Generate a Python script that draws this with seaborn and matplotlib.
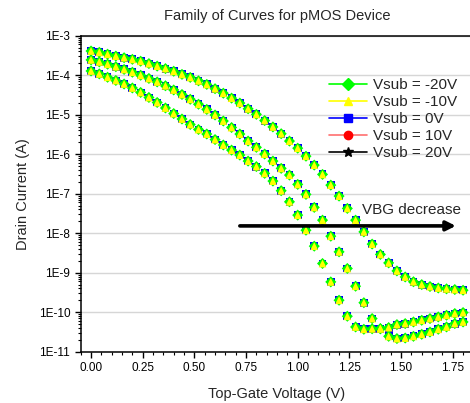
import numpy as np
import pandas as pd
import matplotlib
matplotlib.use("Agg")
import matplotlib.pyplot as plt
import seaborn as sns
from matplotlib.lines import Line2D
from matplotlib.ticker import LogLocator, FixedLocator, FuncFormatter, NullFormatter

# ---------------- data ----------------
gate_voltage = [round(0.04 * i, 2) for i in range(46)]   # 0.00 ... 1.80 V

# three back-gate curves (all Vsub series overlap on them)
curve_high = [4.1e-4, 3.8e-4, 3.4e-4, 3.05e-4, 2.77e-4, 2.52e-4, 2.26e-4, 1.97e-4, 1.7e-4, 1.47e-4,
              1.26e-4, 1.05e-4, 8.8e-5, 7.2e-5, 5.85e-5, 4.55e-5, 3.5e-5, 2.63e-5, 1.97e-5, 1.41e-5,
              1.02e-5, 7.1e-6, 4.9e-6, 3.3e-6, 2.15e-6, 1.42e-6, 8.9e-7, 5.3e-7, 3.08e-7, 1.65e-7,
              8.7e-8, 4.24e-8, 2.14e-8, 1.08e-8, 5.3e-9, 2.9e-9, 1.77e-9, 1.11e-9, 7.8e-10, 5.9e-10,
              5.0e-10, 4.47e-10, 4.1e-10, 3.9e-10, 3.75e-10, 3.6e-10]
curve_mid = [2.44e-4, 2.17e-4, 1.9e-4, 1.64e-4, 1.4e-4, 1.19e-4, 9.97e-5, 8.28e-5, 6.75e-5, 5.4e-5,
             4.23e-5, 3.25e-5, 2.46e-5, 1.84e-5, 1.36e-5, 9.83e-6, 6.92e-6, 4.74e-6, 3.24e-6, 2.15e-6,
             1.49e-6, 1.01e-6, 6.7e-7, 4.38e-7, 2.96e-7, 1.72e-7, 9.6e-8, 4.5e-8, 2.14e-8, 8.4e-9,
             3.37e-9, 1.28e-9, 4.55e-10, 1.74e-10, 6.9e-11, 3.85e-11, 2.45e-11, 2.15e-11, 2.22e-11, 2.45e-11,
             2.76e-11, 3.15e-11, 3.7e-11, 4.23e-11, 5.15e-11, 5.66e-11]
curve_low = [1.28e-4, 1.08e-4, 8.87e-5, 7.36e-5, 6.0e-5, 4.75e-5, 3.66e-5, 2.73e-5, 2.04e-5, 1.48e-5,
             1.07e-5, 7.78e-6, 5.65e-6, 4.22e-6, 3.24e-6, 2.35e-6, 1.71e-6, 1.27e-6, 9.5e-7, 6.7e-7,
             4.86e-7, 3.27e-7, 2.09e-7, 1.19e-7, 6.24e-8, 2.87e-8, 1.19e-8, 4.7e-9, 1.71e-9, 5.85e-10,
             2.01e-10, 7.9e-11, 4.23e-11, 3.7e-11, 3.8e-11, 3.8e-11, 4.08e-11, 4.86e-11, 5.15e-11, 5.66e-11,
             6.25e-11, 6.9e-11, 7.59e-11, 8.38e-11, 9.25e-11, 9.8e-11]

vsub_labels = ["Vsub = -20V", "Vsub = -10V", "Vsub = 0V", "Vsub = 10V", "Vsub = 20V"]
vsub_colors = ["#00ff00", "#ffff00", "#0000ff", "#ff0000", "#000000"]
vsub_line_colors = ["#00ff00", "#ffff00", "#0000ff", "#ff7070", "#000000"]
vsub_markers = ["D", "^", "s", "o", "*"]
draw_order = ["Vsub = 20V", "Vsub = 10V", "Vsub = 0V", "Vsub = -20V", "Vsub = -10V"]

x_ticks = [0.00, 0.25, 0.50, 0.75, 1.00, 1.25, 1.50, 1.75]
y_ticks = [1e-11, 1e-10, 1e-9, 1e-8, 1e-7, 1e-6, 1e-5, 1e-4, 1e-3]

rows = []
for lab in draw_order:
    for curve in (curve_high, curve_mid, curve_low):
        for v, i in zip(gate_voltage, curve):
            rows.append((lab, v, i))
df = pd.DataFrame(rows, columns=["vsub", "vg", "id"])

# ---------------- figure ----------------
sns.set_theme(style="white")
plt.rcParams["font.family"] = ["Liberation Sans", "DejaVu Sans"]

fig = plt.figure(figsize=(4.70, 4.03), dpi=100)
ax = fig.add_axes([80.7 / 470, (403 - 351.7) / 403, 392.7 / 470, (351.7 - 35.7) / 403])
ax.set_yscale("log")

for y in y_ticks:
    ax.axhline(y, color="#d6d6d6", lw=1.0, zorder=0)

palette = dict(zip(vsub_labels, vsub_colors))
markers = dict(zip(vsub_labels, vsub_markers))
sns.scatterplot(data=df, x="vg", y="id", hue="vsub", style="vsub",
                palette=palette, markers=markers, s=32, linewidth=0,
                legend=False, ax=ax, zorder=3)

ax.set_xlim(-0.05, 1.85)
ax.set_ylim(1e-11, 1e-3)
ax.xaxis.set_major_locator(FixedLocator(x_ticks))
ax.xaxis.set_minor_locator(FixedLocator([round(-0.05 + 0.05 * k, 2) for k in range(39)]))
ax.xaxis.set_major_formatter(FuncFormatter(lambda v, p: f"{v:.2f}"))
ax.yaxis.set_major_locator(FixedLocator(y_ticks))
ax.yaxis.set_minor_locator(LogLocator(base=10, subs=np.arange(2, 10), numticks=20))
ax.yaxis.set_minor_formatter(NullFormatter())
ax.yaxis.set_major_formatter(FuncFormatter(lambda v, p: f"1E{int(round(np.log10(v)))}"))

ax.tick_params(axis="both", which="major", direction="out", length=4.5, width=1,
               labelsize=8.5, color="black", labelcolor="black", pad=3,
               left=True, bottom=True)
ax.tick_params(axis="both", which="minor", direction="out", length=2.5, width=0.8,
               color="black", left=True, bottom=True)

for side in ("left", "bottom", "top"):
    ax.spines[side].set_color("black")
    ax.spines[side].set_linewidth(1.1)
ax.spines["right"].set_visible(False)

ax.set_xlabel("Top-Gate Voltage (V)", fontsize=10.5, labelpad=9)
ax.set_ylabel("Drain Current (A)", fontsize=10.5, labelpad=6)
ax.set_title("Family of Curves for pMOS Device", fontsize=10.5, pad=11)

# arrow + annotation
ax.annotate("", xy=(1.765, 1.53e-8), xytext=(0.72, 1.53e-8),
            arrowprops=dict(arrowstyle="-|>", lw=2.6, color="black", mutation_scale=14,
                            shrinkA=0, shrinkB=0), zorder=5)
ax.text(1.31, 3.84e-8, "VBG decrease", fontsize=11, va="center", ha="left", zorder=5)

handles = [Line2D([0], [0], color=lc, marker=m, markerfacecolor=c, markeredgecolor=c,
                  markersize=6 if m != "*" else 7, lw=1.2)
           for c, lc, m in zip(vsub_colors, vsub_line_colors, vsub_markers)]
leg = ax.legend(handles, vsub_labels, loc="upper left", bbox_to_anchor=(323 / 470, (403 - 72) / 403),
                bbox_transform=fig.transFigure, frameon=False, fontsize=11,
                handlelength=2.5, handletextpad=0.35, labelspacing=0.2, borderaxespad=0)

fig.savefig("out.png", dpi=100)
